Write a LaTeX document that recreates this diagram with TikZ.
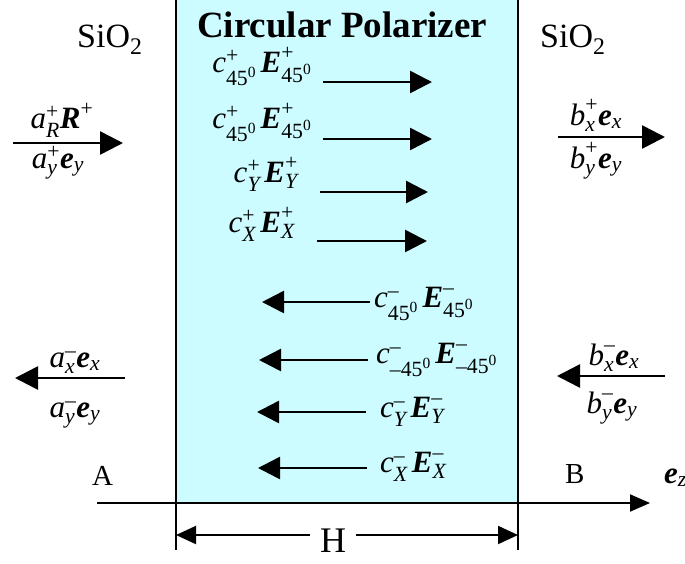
\documentclass[tikz,border=0pt]{standalone}
\usepackage{amsmath}
\usepackage{fontspec}
\setmainfont{Liberation Serif}
\usetikzlibrary{arrows.meta}
\definecolor{boxfill}{RGB}{204,252,255}
\newcommand\bv[1]{\textbf{\textit{#1}}}
\newcommand\iv[1]{\textit{#1}}
\newcommand\pl{\textrm{+}}
\newcommand\mn{\textrm{–}}
\newcommand\fz{\textrm{45}^{\textrm{0}}}
\tikzset{
  lbl/.style={inner sep=0pt, font=\fontsize{31}{36}\selectfont},
  big/.style={inner sep=0pt, font=\fontsize{34}{38}\selectfont},
  fwd/.style={line width=2.6pt, -{Triangle[length=22pt,width=22pt]}},
  outer/.style={line width=2.6pt, -{Triangle[length=23pt,width=23pt]}},
  wall/.style={line width=2pt},
  axisline/.style={line width=2pt, -{Triangle[length=20pt,width=17pt]}},
  dimline/.style={line width=2pt, -{Triangle[length=20pt,width=18pt]}}
}
\begin{document}
\begin{tikzpicture}[x=1pt,y=-1pt]
\useasboundingbox (0,0) rectangle (685,563);
% slab
\fill[boxfill] (176,0) rectangle (518,503);
\coordinate (wl0) at (176,0); \coordinate (wl1) at (176,550);
\coordinate (wr0) at (518,0); \coordinate (wr1) at (518,550);
\draw[wall] (wl0) -- (wl1);
\draw[wall] (wr0) -- (wr1);
% axis
\coordinate (ax0) at (97,503); \coordinate (ax1) at (650,503);
\draw[axisline] (ax0) -- (ax1);
\node[lbl, anchor=base west] (ez) at (664,483) {$\bv{e}_{\iv{z}}$};
\node[inner sep=0pt, font=\fontsize{29}{32}\selectfont, anchor=base west] (A) at (92,485) {A};
\node[inner sep=0pt, font=\fontsize{29}{32}\selectfont, anchor=base west] (B) at (565,483) {B};
% titles
\node[big, anchor=base west] (s1) at (77,47) {SiO$_{\textrm{2}}$};
\node[big, anchor=base west] (s2) at (540,47) {SiO$_{\textrm{2}}$};
\node[inner sep=0pt, font=\bfseries\fontsize{37}{40}\selectfont, anchor=base west] (title) at (197,37) {Circular Polarizer};
% dimension H
\node[inner sep=0pt, inner xsep=10pt, font=\fontsize{36}{40}\selectfont, anchor=base] (H) at (333,552) {H};
\coordinate (hl) at (176,535); \coordinate (hr) at (518,535);
\draw[dimline] (hl -| H.west) -- (hl);
\draw[dimline] (hr -| H.east) -- (hr);
% forward waves inside
\node[lbl, anchor=base east] (c1) at (312,72) {$\iv{c}^{\pl}_{\fz}\,\bv{E}^{\pl}_{\fz}$};
\node[lbl, anchor=base east] (c2) at (312,128) {$\iv{c}^{\pl}_{\fz}\,\bv{E}^{\pl}_{\fz}$};
\node[lbl, anchor=base east] (c3) at (298,182) {$\iv{c}^{\pl}_{\iv{Y}}\,\bv{E}^{\pl}_{\iv{Y}}$};
\node[lbl, anchor=base east] (c4) at (295,232) {$\iv{c}^{\pl}_{\iv{X}}\,\bv{E}^{\pl}_{\iv{X}}$};
\coordinate (f1a) at (323,82);  \coordinate (f1b) at (432,82);
\coordinate (f2a) at (323,139); \coordinate (f2b) at (432,139);
\coordinate (f3a) at (320,192); \coordinate (f3b) at (428,192);
\coordinate (f4a) at (317,241); \coordinate (f4b) at (427,241);
\draw[fwd] (f1a) -- (f1b);
\draw[fwd] (f2a) -- (f2b);
\draw[fwd] (f3a) -- (f3b);
\draw[fwd] (f4a) -- (f4b);
% backward waves inside
\node[lbl, anchor=base west] (c5) at (374,307) {$\iv{c}^{\mn}_{\fz}\,\bv{E}^{\mn}_{\fz}$};
\node[lbl, anchor=base west] (c6) at (376,363) {$\iv{c}^{\mn}_{\mn\fz}\,\bv{E}^{\mn}_{\mn\fz}$};
\node[lbl, anchor=base west] (c7) at (380,417) {$\iv{c}^{\mn}_{\iv{Y}}\,\bv{E}^{\mn}_{\iv{Y}}$};
\node[lbl, anchor=base west] (c8) at (380,472) {$\iv{c}^{\mn}_{\iv{X}}\,\bv{E}^{\mn}_{\iv{X}}$};
\coordinate (b1a) at (370,302); \coordinate (b1b) at (262,302);
\coordinate (b2a) at (368,360); \coordinate (b2b) at (259,360);
\coordinate (b3a) at (366,412); \coordinate (b3b) at (257,412);
\coordinate (b4a) at (367,468); \coordinate (b4b) at (258,468);
\draw[fwd] (b1a) -- (b1b);
\draw[fwd] (b2a) -- (b2b);
\draw[fwd] (b3a) -- (b3b);
\draw[fwd] (b4a) -- (b4b);
% outside waves
\node[lbl, anchor=base] (aRp) at (62,128) {$\iv{a}^{\pl}_{\iv{R}}\bv{R}^{\pl}$};
\node[lbl, anchor=base] (ayp) at (58,168) {$\iv{a}^{\pl}_{\iv{y}}\bv{e}_{\iv{y}}$};
\coordinate (la0) at (13,143); \coordinate (la1) at (123,143);
\draw[outer] (la0) -- (la1);
\node[lbl, anchor=base] (bxp) at (596,125) {$\iv{b}^{\pl}_{\iv{x}}\bv{e}_{\iv{x}}$};
\node[lbl, anchor=base] (byp) at (596,168) {$\iv{b}^{\pl}_{\iv{y}}\bv{e}_{\iv{y}}$};
\coordinate (ra0) at (558,137); \coordinate (ra1) at (665,137);
\draw[outer] (ra0) -- (ra1);
\node[lbl, anchor=base] (axm) at (75,367) {$\iv{a}^{\mn}_{\iv{x}}\bv{e}_{\iv{x}}$};
\node[lbl, anchor=base] (aym) at (75,417) {$\iv{a}^{\mn}_{\iv{y}}\bv{e}_{\iv{y}}$};
\coordinate (lb0) at (125,378); \coordinate (lb1) at (15,378);
\draw[outer] (lb0) -- (lb1);
\node[lbl, anchor=base] (bxm) at (614,365) {$\iv{b}^{\mn}_{\iv{x}}\bv{e}_{\iv{x}}$};
\node[lbl, anchor=base] (bym) at (612,413) {$\iv{b}^{\mn}_{\iv{y}}\bv{e}_{\iv{y}}$};
\coordinate (rb0) at (665,376); \coordinate (rb1) at (557,376);
\draw[outer] (rb0) -- (rb1);
\end{tikzpicture}
\end{document}
